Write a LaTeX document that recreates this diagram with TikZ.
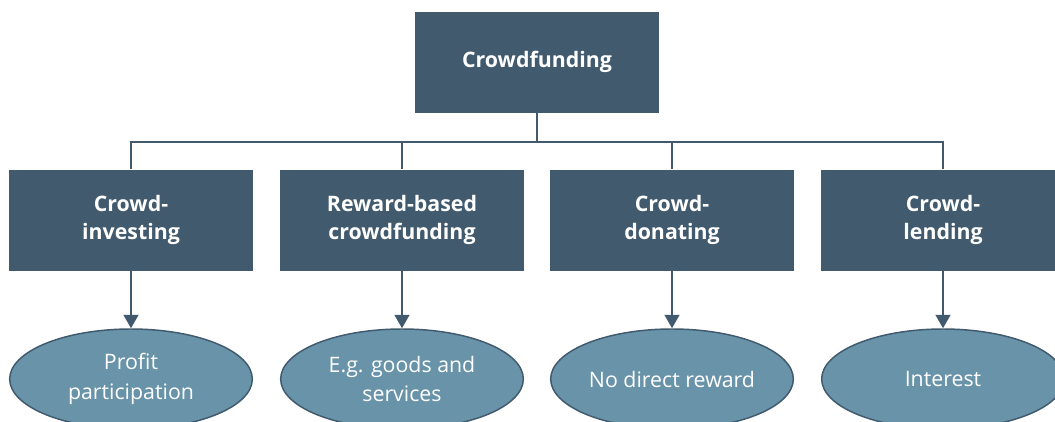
\documentclass[tikz,border=0pt]{standalone}
\usepackage{fontspec}
\setmainfont{Open Sans}
\usetikzlibrary{shapes.geometric,arrows.meta}
\definecolor{boxblue}{HTML}{415A6E}
\definecolor{ovalblue}{HTML}{6893A8}
\tikzset{
  kind/.style={rectangle, fill=boxblue, text=white, font=\bfseries\fontsize{16}{21}\selectfont,
    minimum width=183pt, minimum height=75.75pt, align=center, inner sep=0pt},
  payoff/.style={ellipse, draw=boxblue, line width=1.1pt, fill=ovalblue, text=white,
    font=\fontsize{16}{22}\selectfont, minimum width=182pt, minimum height=75pt, align=center, inner sep=0pt},
  link/.style={draw=boxblue, line width=1.6pt},
  pointer/.style={link, -{Triangle[length=10pt,width=11pt]}}
}
\begin{document}
\begin{tikzpicture}[x=0.75pt,y=-0.75pt]
            \useasboundingbox (0,0) rectangle (1055,421);
            \node[kind] (crowd) at (537,62) {Crowdfunding};
            \coordinate (bus) at (537,142);

            \node[kind] (inv) at (131,220) {Crowd-\\investing};
            \node[kind] (rew) at (402,220) {Reward-based\\crowdfunding};
            \node[kind] (don) at (672,220) {Crowd-\\donating};
            \node[kind] (lend) at (943,220) {Crowd-\\lending};

            \node[payoff] (profit) at (131,379) {Profit\\participation};
            \node[payoff] (goods) at (402,379) {E.g. goods and\\services};
            \node[payoff] (noreward) at (672,379) {No direct reward};
            \node[payoff] (interest) at (943,379) {Interest};

            \draw[link] (crowd) -- (bus);
            \draw[link] (inv.north) |- (bus) -| (lend.north);
            \draw[link] (rew.north) -- (rew.north |- bus);
            \draw[link] (don.north) -- (don.north |- bus);

            \draw[pointer] (inv) -- (profit);
            \draw[pointer] (rew) -- (goods);
            \draw[pointer] (don) -- (noreward);
            \draw[pointer] (lend) -- (interest);
\end{tikzpicture}
\end{document}
